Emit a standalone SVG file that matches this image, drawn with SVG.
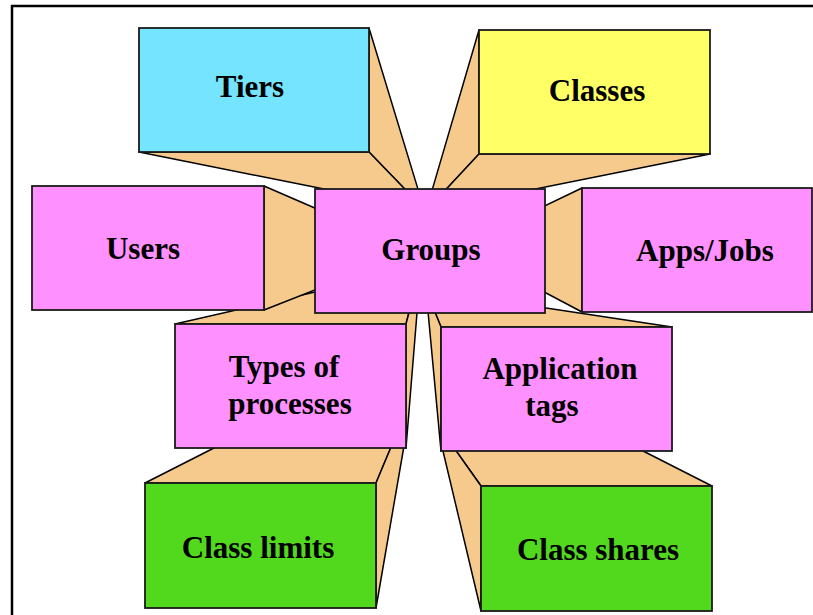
<svg xmlns="http://www.w3.org/2000/svg" width="813" height="615" viewBox="0 0 813 615">
<style>
.face{fill:#F5CA8C;stroke:#000;stroke-width:1.5;stroke-linejoin:round}
.box{stroke:#1a1a1a;stroke-width:1.8}
.pink{fill:#FF90FF}
.cyan{fill:#75E5FF}
.yellow{fill:#FFFF66}
.green{fill:#52D81C}
.lbl{font-family:"Liberation Serif","Times New Roman",serif;font-weight:bold;font-size:31px;fill:#000;text-anchor:middle}
.frame{fill:none;stroke:#000;stroke-width:2.5}
</style>
<rect x="0" y="0" width="813" height="615" fill="#fff"/>
<path class="frame" d="M12,615 L12,6 L813,6"/>
<g id="connectors">
  <!-- Class limits extrusion -->
  <polygon class="face" points="145,483 376,483 394,440 229.7,440"/>
  <polygon class="face" points="376,483 376,608 404,446 394,440"/>
  <!-- Class shares extrusion -->
  <polygon class="face" points="481,486 712,486 621.4,440 448.4,440"/>
  <polygon class="face" points="481,486 481,611 442.5,449 448.4,440"/>
  <!-- Types of processes extrusion -->
  <polygon class="face" points="175,324 406,324 419.2,273.6 396.1,273.6"/>
  <polygon class="face" points="406,324 406,448 419.2,286 419.2,273.6"/>
  <!-- Application tags extrusion -->
  <polygon class="face" points="441,327 672,327 450.6,293.7 427.5,293.7"/>
  <polygon class="face" points="441,327 441,451 427.5,306.1 427.5,293.7"/>
  <!-- Users extrusion -->
  <polygon class="face" points="264,186 264,310 399,256.9 399,244.5"/>
  <!-- Apps/Jobs extrusion -->
  <polygon class="face" points="582,188 582,312 471.3,253.5 471.3,241.1"/>
  <!-- Tiers extrusion -->
  <polygon class="face" points="369,28 369,152 418.5,203.3 418.5,190.9"/>
  <polygon class="face" points="139,152 369,152 418.5,203.3 395.5,203.3"/>
  <!-- Classes extrusion -->
  <polygon class="face" points="479,30 479,154 431.3,205.3 431.3,192.9"/>
  <polygon class="face" points="479,154 710,154 454.4,205.3 431.3,205.3"/>
</g>
<g id="node-tiers">
  <rect class="box cyan" x="139" y="28" width="230" height="124"/>
  <text class="lbl" x="250" y="97">Tiers</text>
</g>
<g id="node-classes">
  <rect class="box yellow" x="479" y="30" width="231" height="124"/>
  <text class="lbl" x="597" y="101">Classes</text>
</g>
<g id="node-users">
  <rect class="box pink" x="32" y="186" width="232" height="124"/>
  <text class="lbl" x="143" y="259">Users</text>
</g>
<g id="node-groups">
  <rect class="box pink" x="315" y="189" width="230" height="124"/>
  <text class="lbl" x="431" y="260">Groups</text>
</g>
<g id="node-apps">
  <rect class="box pink" x="582" y="188" width="230" height="124"/>
  <text class="lbl" x="705" y="261">Apps/Jobs</text>
</g>
<g id="node-types">
  <rect class="box pink" x="175" y="324" width="231" height="124"/>
  <text class="lbl" x="284" y="377">Types of</text>
  <text class="lbl" x="290" y="414">processes</text>
</g>
<g id="node-apptags">
  <rect class="box pink" x="441" y="327" width="231" height="124"/>
  <text class="lbl" x="560" y="379">Application</text>
  <text class="lbl" x="552" y="416">tags</text>
</g>
<g id="node-classlimits">
  <rect class="box green" x="145" y="483" width="231" height="125"/>
  <text class="lbl" x="258" y="558">Class limits</text>
</g>
<g id="node-classshares">
  <rect class="box green" x="481" y="486" width="231" height="125"/>
  <text class="lbl" x="598" y="560">Class shares</text>
</g>
</svg>
